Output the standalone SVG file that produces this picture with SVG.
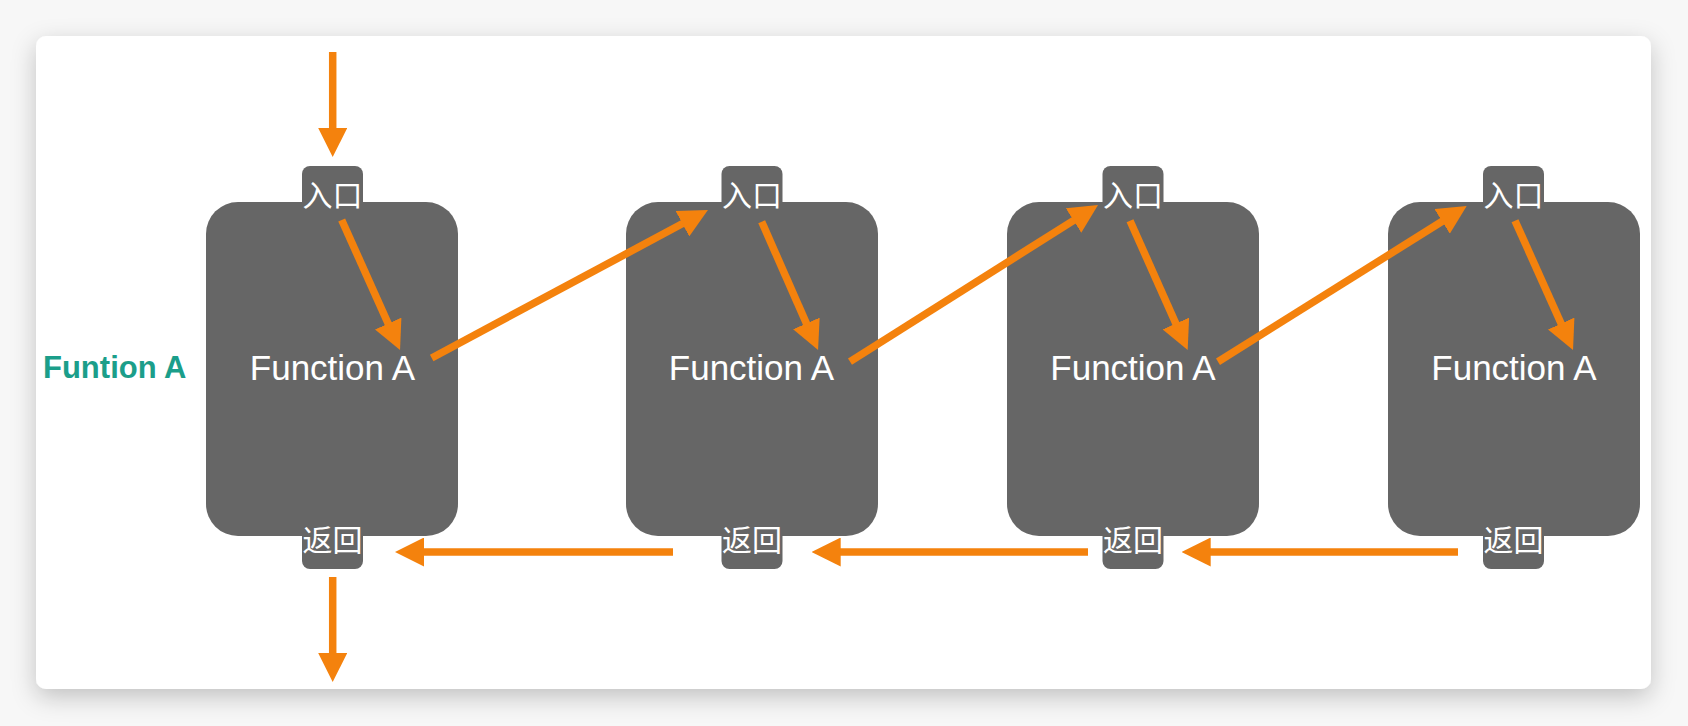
<svg xmlns="http://www.w3.org/2000/svg" width="1688" height="726" viewBox="0 0 1688 726">
  <defs>
    <filter id="shadow" x="-5%" y="-10%" width="110%" height="130%">
      <feDropShadow dx="0" dy="8" stdDeviation="12" flood-color="#000" flood-opacity="0.22"/>
    </filter>
    <marker id="head" markerUnits="userSpaceOnUse" markerWidth="29" markerHeight="29" refX="4" refY="14.5" orient="auto">
      <path d="M0,0 L29,14.5 L0,29 z" fill="#f4820d"/>
    </marker>
    <style>
      .box { fill: #666666; }
      .tab { fill: #666666; }
      .fn { font-family: "Liberation Sans", Arial, sans-serif; font-size: 35px; fill: #ffffff; text-anchor: middle; }
      .cjk { font-family: "Liberation Sans", "Noto Sans CJK SC", sans-serif; font-size: 30px; fill: #ffffff; text-anchor: middle; }
      .conn { stroke: #f4820d; stroke-width: 7.5; fill: none; marker-end: url(#head); }
      .label { font-family: "Liberation Sans", Arial, sans-serif; font-size: 31px; font-weight: bold; fill: #1b9e8a; }
    </style>
  </defs>

  <rect x="0" y="0" width="1688" height="726" fill="#f7f7f7"/>
  <rect id="card" x="36" y="36" width="1615" height="653" rx="10" fill="#ffffff" filter="url(#shadow)"/>

  <text id="side-label" class="label" x="43" y="378">Funtion A</text>

  <g id="node1">
    <rect class="tab" x="302" y="166" width="61" height="50" rx="8"/>
    <rect class="tab" x="302" y="519" width="61" height="50" rx="8"/>
    <rect class="box" x="206" y="202" width="252" height="334" rx="32"/>
    <text class="cjk" x="332.5" y="206">入口</text>
    <text class="fn" x="332.5" y="380">Function A</text>
    <text class="cjk" x="332.5" y="551">返回</text>
  </g>

  <g id="node2">
    <rect class="tab" x="721.5" y="166" width="61" height="50" rx="8"/>
    <rect class="tab" x="721.5" y="519" width="61" height="50" rx="8"/>
    <rect class="box" x="626" y="202" width="252" height="334" rx="32"/>
    <text class="cjk" x="752" y="206">入口</text>
    <text class="fn" x="751.5" y="380">Function A</text>
    <text class="cjk" x="752" y="551">返回</text>
  </g>

  <g id="node3">
    <rect class="tab" x="1102.5" y="166" width="61" height="50" rx="8"/>
    <rect class="tab" x="1102.5" y="519" width="61" height="50" rx="8"/>
    <rect class="box" x="1007" y="202" width="252" height="334" rx="32"/>
    <text class="cjk" x="1133" y="206">入口</text>
    <text class="fn" x="1133" y="380">Function A</text>
    <text class="cjk" x="1133" y="551">返回</text>
  </g>

  <g id="node4">
    <rect class="tab" x="1483" y="166" width="61" height="50" rx="8"/>
    <rect class="tab" x="1483" y="519" width="61" height="50" rx="8"/>
    <rect class="box" x="1388" y="202" width="252" height="334" rx="32"/>
    <text class="cjk" x="1513.5" y="206">入口</text>
    <text class="fn" x="1514" y="380">Function A</text>
    <text class="cjk" x="1513.5" y="551">返回</text>
  </g>

  <g id="connectors">
    <line class="conn" x1="332.7" y1="52" x2="332.7" y2="132"/>
    <line class="conn" x1="332.7" y1="577" x2="332.7" y2="657"/>
    <line class="conn" x1="673" y1="552" x2="420" y2="552"/>
    <line class="conn" x1="1088" y1="552" x2="836.7" y2="552"/>
    <line class="conn" x1="1458" y1="552" x2="1206.7" y2="552"/>
    <line class="conn" x1="341.7" y1="220" x2="389.8" y2="327.2"/>
    <line class="conn" x1="761.7" y1="221.7" x2="808" y2="327.1"/>
    <line class="conn" x1="1130" y1="220.7" x2="1177.5" y2="327.2"/>
    <line class="conn" x1="1515" y1="220.7" x2="1562.8" y2="327.2"/>
    <line class="conn" x1="431.7" y1="358" x2="685.9" y2="221.8"/>
    <line class="conn" x1="850" y1="361.7" x2="1076.9" y2="218.3"/>
    <line class="conn" x1="1218" y1="361.7" x2="1445.5" y2="219.3"/>
  </g>
</svg>
